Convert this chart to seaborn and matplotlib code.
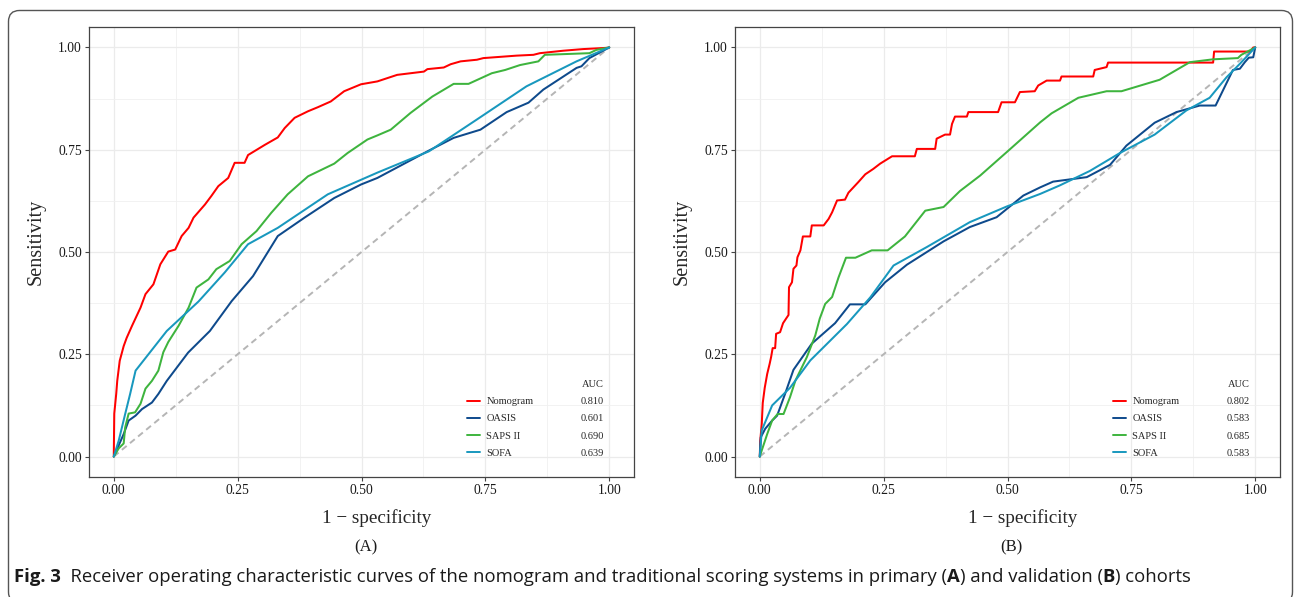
"""
ROC curves of the nomogram and traditional scores, primary and validation cohorts.
"""

import matplotlib
matplotlib.use("Agg")
import matplotlib.pyplot as plt
from matplotlib.lines import Line2D
from matplotlib.patches import FancyBboxPatch
from matplotlib.transforms import IdentityTransform
import pandas as pd
import seaborn as sns

MODELS = ["Nomogram", "OASIS", "SAPS II", "SOFA"]
COLORS = {"Nomogram": "#FF0000", "OASIS": "#0E4A8C",
          "SAPS II": "#3EB43E", "SOFA": "#1898BE"}

# AUC values printed in the legends
auc_primary = [0.810, 0.601, 0.690, 0.639]
auc_validation = [0.802, 0.583, 0.685, 0.583]

# (1 - specificity, sensitivity)
nomogram_primary = [
    (0, 0), (0.001, 0.105), (0.005, 0.154), (0.007, 0.185), (0.012, 0.234),
    (0.020, 0.27), (0.026, 0.29), (0.037, 0.320), (0.054, 0.364), (0.064, 0.397),
    (0.080, 0.421), (0.094, 0.470), (0.110, 0.501), (0.124, 0.506), (0.137, 0.539),
    (0.151, 0.559), (0.161, 0.584), (0.184, 0.616), (0.197, 0.637), (0.211, 0.661),
    (0.231, 0.681), (0.244, 0.718), (0.264, 0.718), (0.271, 0.737), (0.305, 0.762),
    (0.331, 0.780), (0.345, 0.803), (0.365, 0.828), (0.392, 0.844), (0.412, 0.854),
    (0.438, 0.868), (0.465, 0.893), (0.499, 0.910), (0.532, 0.917), (0.572, 0.933),
    (0.626, 0.941), (0.633, 0.947), (0.666, 0.951), (0.680, 0.959), (0.700, 0.966),
    (0.733, 0.970), (0.746, 0.974), (0.813, 0.980), (0.847, 0.982), (0.860, 0.986),
    (0.907, 0.992), (0.947, 0.996), (0.994, 0.999), (1.0, 1.0),
]
oasis_primary = [
    (0, 0), (0.007, 0.019), (0.020, 0.055), (0.030, 0.088), (0.044, 0.100),
    (0.057, 0.116), (0.077, 0.132), (0.090, 0.153), (0.107, 0.185), (0.150, 0.254),
    (0.194, 0.307), (0.238, 0.380), (0.281, 0.441), (0.331, 0.539), (0.385, 0.584),
    (0.445, 0.632), (0.499, 0.665), (0.532, 0.681), (0.633, 0.746), (0.686, 0.779),
    (0.740, 0.799), (0.793, 0.842), (0.837, 0.865), (0.867, 0.897), (0.934, 0.950),
    (0.944, 0.954), (0.960, 0.974), (1.0, 1.0),
]
saps_primary = [
    (0, 0), (0.010, 0.020), (0.020, 0.032), (0.023, 0.071), (0.030, 0.105),
    (0.043, 0.108), (0.054, 0.129), (0.064, 0.166), (0.077, 0.185), (0.090, 0.21),
    (0.100, 0.255), (0.110, 0.28), (0.131, 0.320), (0.151, 0.364), (0.167, 0.413),
    (0.191, 0.433), (0.207, 0.458), (0.234, 0.478), (0.258, 0.519), (0.288, 0.551),
    (0.318, 0.596), (0.351, 0.641), (0.392, 0.685), (0.445, 0.716), (0.472, 0.742),
    (0.512, 0.775), (0.532, 0.785), (0.559, 0.799), (0.599, 0.840), (0.643, 0.880),
    (0.686, 0.911), (0.716, 0.911), (0.763, 0.937), (0.790, 0.945), (0.820, 0.957),
    (0.857, 0.966), (0.870, 0.982), (0.960, 0.986), (0.974, 0.994), (1.0, 1.0),
]
sofa_primary = [
    (0, 0), (0.010, 0.039), (0.023, 0.104), (0.033, 0.153), (0.044, 0.210),
    (0.107, 0.307), (0.171, 0.379), (0.224, 0.450), (0.271, 0.519), (0.331, 0.559),
    (0.432, 0.641), (0.532, 0.694), (0.636, 0.746), (0.733, 0.824), (0.833, 0.905),
    (0.934, 0.966), (1.0, 1.0),
]

nomogram_validation = [
    (0, 0), (0.001, 0.039), (0.004, 0.080), (0.006, 0.131), (0.010, 0.168),
    (0.015, 0.202), (0.020, 0.227), (0.023, 0.244), (0.026, 0.265), (0.031, 0.265),
    (0.033, 0.300), (0.041, 0.304), (0.047, 0.326), (0.053, 0.337), (0.058, 0.346),
    (0.059, 0.414), (0.065, 0.426), (0.068, 0.459), (0.074, 0.467), (0.076, 0.487),
    (0.082, 0.504), (0.087, 0.538), (0.102, 0.538), (0.105, 0.565), (0.129, 0.565),
    (0.139, 0.581), (0.146, 0.597), (0.156, 0.626), (0.172, 0.628), (0.179, 0.645),
    (0.199, 0.671), (0.213, 0.690), (0.229, 0.703), (0.243, 0.716), (0.267, 0.734),
    (0.313, 0.734), (0.317, 0.752), (0.354, 0.752), (0.357, 0.777), (0.374, 0.787),
    (0.384, 0.787), (0.388, 0.813), (0.394, 0.831), (0.418, 0.831), (0.421, 0.842),
    (0.481, 0.842), (0.488, 0.866), (0.515, 0.866), (0.525, 0.891), (0.555, 0.893),
    (0.562, 0.907), (0.579, 0.919), (0.606, 0.919), (0.609, 0.929), (0.673, 0.929),
    (0.676, 0.945), (0.700, 0.952), (0.703, 0.963), (0.915, 0.963), (0.917, 0.990),
    (0.990, 0.990), (0.996, 1.0), (1.0, 1.0),
]
oasis_validation = [
    (0, 0), (0.002, 0.047), (0.011, 0.068), (0.025, 0.088), (0.035, 0.100),
    (0.051, 0.153), (0.068, 0.212), (0.105, 0.276), (0.152, 0.326), (0.182, 0.372),
    (0.213, 0.372), (0.253, 0.426), (0.297, 0.469), (0.371, 0.526), (0.424, 0.561),
    (0.478, 0.585), (0.532, 0.638), (0.566, 0.658), (0.592, 0.672), (0.660, 0.683),
    (0.707, 0.713), (0.740, 0.760), (0.797, 0.816), (0.841, 0.842), (0.888, 0.858),
    (0.920, 0.858), (0.955, 0.945), (0.969, 0.948), (0.979, 0.964), (0.987, 0.975),
    (0.996, 0.976), (1.0, 1.0),
]
saps_validation = [
    (0, 0), (0.004, 0.015), (0.015, 0.055), (0.025, 0.088), (0.036, 0.104),
    (0.048, 0.104), (0.061, 0.145), (0.072, 0.186), (0.095, 0.243), (0.112, 0.296),
    (0.121, 0.337), (0.132, 0.373), (0.146, 0.390), (0.159, 0.438), (0.174, 0.486),
    (0.193, 0.486), (0.226, 0.504), (0.258, 0.504), (0.293, 0.538), (0.334, 0.601),
    (0.371, 0.610), (0.404, 0.649), (0.445, 0.687), (0.502, 0.748), (0.566, 0.817),
    (0.589, 0.839), (0.643, 0.877), (0.700, 0.893), (0.730, 0.893), (0.807, 0.921),
    (0.868, 0.964), (0.915, 0.971), (0.965, 0.974), (0.972, 0.982), (1.0, 1.0),
]
sofa_validation = [
    (0, 0), (0.004, 0.064), (0.025, 0.125), (0.061, 0.168), (0.102, 0.235),
    (0.176, 0.324), (0.223, 0.389), (0.270, 0.467), (0.337, 0.512), (0.424, 0.573),
    (0.498, 0.611), (0.566, 0.642), (0.606, 0.663), (0.666, 0.698), (0.727, 0.742),
    (0.797, 0.787), (0.861, 0.846), (0.908, 0.877), (0.942, 0.927), (0.969, 0.960),
    (1.0, 1.0),
]

chance = [0, 1]
ticks = [0.00, 0.25, 0.50, 0.75, 1.00]
minor_ticks = [0.125, 0.375, 0.625, 0.875]

SERIF = "Liberation Serif"


def to_frame(curves):
    """Long-form frame: one row per ROC point."""
    rows = []
    for model, points in zip(MODELS, curves):
        for order, (fpr, tpr) in enumerate(points):
            rows.append({"model": model, "order": order, "fpr": fpr, "tpr": tpr})
    return pd.DataFrame(rows)


def draw_panel(ax, frame, aucs, tag):
    ax.plot(chance, chance, color="#B5B5B5", lw=1.4, ls=(0, (3.2, 2.2)), zorder=1)
    sns.lineplot(data=frame, x="fpr", y="tpr", hue="model", hue_order=MODELS,
                 palette=COLORS, estimator=None, sort=False, lw=1.45,
                 legend=False, ax=ax, zorder=2)

    ax.set_xlim(-0.05, 1.05)
    ax.set_ylim(-0.05, 1.05)
    ax.set_xticks(ticks)
    ax.set_yticks(ticks)
    ax.set_xticks(minor_ticks, minor=True)
    ax.set_yticks(minor_ticks, minor=True)
    ax.set_xticklabels([f"{t:.2f}" for t in ticks])
    ax.set_yticklabels([f"{t:.2f}" for t in ticks])
    ax.grid(which="major", color="#EBEBEB", lw=0.9)
    ax.grid(which="minor", color="#F0F0F0", lw=0.6)
    ax.tick_params(which="major", direction="out", length=3, width=0.8,
                   color="#444444", labelsize=9.8, labelcolor="#1A1A1A", pad=2,
                   bottom=True, left=True)
    ax.tick_params(which="minor", length=0)
    for side in ax.spines.values():
        side.set_color("#444444")
        side.set_linewidth(0.9)
        side.set_visible(True)

    ax.set_xlabel("1 \u2212 specificity", fontsize=13.8, family=SERIF)
    ax.xaxis.set_label_coords(0.527, -0.072)
    ax.set_ylabel("Sensitivity", fontsize=14.5, family=SERIF)
    ax.yaxis.set_label_coords(-0.08, 0.523)
    ax.text(0.508, -0.157, f"({tag})", transform=ax.transAxes, fontsize=12,
            family=SERIF, ha="center", va="center", color="#1A1A1A")

    handles = [Line2D([], [], color=COLORS[m], lw=1.4) for m in MODELS]
    names = ax.legend(handles, MODELS, loc="lower left",
                      bbox_to_anchor=(0.693, 0.043), frameon=False,
                      prop={"family": SERIF, "size": 7.5}, handlelength=1.3,
                      handletextpad=0.6, labelspacing=0.75, borderpad=0,
                      borderaxespad=0)
    ax.add_artist(names)
    blanks = [Line2D([], [], lw=0) for _ in MODELS]
    values = ax.legend(blanks, [f"{a:.3f}" for a in aucs], title="AUC",
                       loc="lower right", bbox_to_anchor=(0.945, 0.043),
                       frameon=False, prop={"family": SERIF, "size": 7.5},
                       title_fontproperties={"family": SERIF, "size": 7.5},
                       handlelength=0, handletextpad=0, labelspacing=0.75,
                       borderpad=0, borderaxespad=0, alignment="right")
    for txt in values.get_texts():
        txt.set_ha("right")


def write_caption(fig, pieces, x, y, size):
    """Lay out the caption piece by piece so bold runs sit inline."""
    renderer = fig.canvas.get_renderer()
    for text, weight in pieces:
        t = fig.text(x, y, text, fontsize=size, fontweight=weight,
                     family="Open Sans", va="center", ha="left", color="#1A1A1A")
        box = t.get_window_extent(renderer)
        x = fig.transFigure.inverted().transform((box.x1, box.y0))[0]


def main():
    sns.set_theme(style="whitegrid")
    plt.rcParams["font.family"] = [SERIF, "DejaVu Serif"]

    fig = plt.figure(figsize=(12.95, 5.97), dpi=100)
    fig.patch.set_facecolor("white")
    ax_a = fig.add_axes([89 / 1295, 120 / 597, 545 / 1295, 450 / 597])
    ax_b = fig.add_axes([735 / 1295, 120 / 597, 545 / 1295, 450 / 597])
    for ax in (ax_a, ax_b):
        ax.set_facecolor("white")

    draw_panel(ax_a, to_frame([nomogram_primary, oasis_primary,
                               saps_primary, sofa_primary]), auc_primary, "A")
    draw_panel(ax_b, to_frame([nomogram_validation, oasis_validation,
                               saps_validation, sofa_validation]), auc_validation, "B")

    # rounded frame around the whole figure
    frame = FancyBboxPatch((8.5, -6), 1284, 592.5,
                           boxstyle="round,pad=0,rounding_size=11",
                           transform=IdentityTransform(), fill=False,
                           edgecolor="#555555", lw=1.0)
    fig.patches.append(frame)

    pieces = [
        ("Fig. 3", "bold"),
        ("  Receiver operating characteristic curves of the nomogram and "
         "traditional scoring systems in primary (", "normal"),
        ("A", "bold"),
        (") and validation (", "normal"),
        ("B", "bold"),
        (") cohorts", "normal"),
    ]
    write_caption(fig, pieces, 14 / 1295, 1 - 577 / 597, 13.3)

    fig.savefig("out.png", dpi=100)
    plt.close(fig)


if __name__ == "__main__":
    main()
